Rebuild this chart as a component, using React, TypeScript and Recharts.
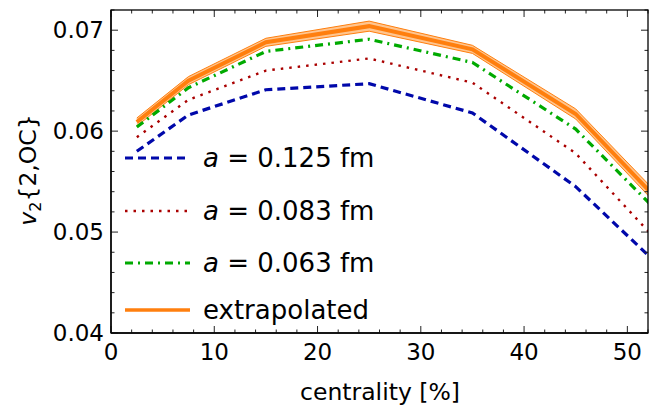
import React from "react";
import { ComposedChart, Line, Area, XAxis, YAxis } from "recharts";

const centrality = [2.5, 7.5, 15, 25, 35, 45, 55];
const a0125 = [0.058, 0.0616, 0.0641, 0.0647, 0.0618, 0.0545, 0.0448];
const a0083 = [0.0594, 0.0631, 0.066, 0.0672, 0.0648, 0.0578, 0.0468];
const a0063 = [0.0604, 0.0643, 0.0679, 0.0691, 0.0668, 0.0602, 0.0499];
const extrap = [0.0609, 0.065, 0.0688, 0.0704, 0.0681, 0.0617, 0.051];
const extrapErr = [0.0004, 0.0004, 0.0004, 0.0005, 0.0004, 0.0005, 0.0006];

const xTicks = [0, 2, 4, 6, 8, 10, 12, 14, 16, 18, 20, 22, 24, 26, 28, 30, 32, 34, 36, 38, 40, 42, 44, 46, 48, 50, 52];
const yTicks = [0.04, 0.042, 0.044, 0.046, 0.048, 0.05, 0.052, 0.054, 0.056, 0.058, 0.06, 0.062, 0.064, 0.066, 0.068, 0.07, 0.072];

const legendLabels = ["0.125 fm", "0.083 fm", "0.063 fm", "extrapolated"];

const data = centrality.map((c, i) => ({
  c,
  s1: a0125[i],
  s2: a0083[i],
  s3: a0063[i],
  ex: extrap[i],
  band: [extrap[i] - extrapErr[i], extrap[i] + extrapErr[i]],
}));

const FONT = "DejaVu Sans, sans-serif";
const BLUE = "#0008aa";
const RED = "#aa0000";
const GREEN = "#00aa00";
const ORANGE = "#ff7f0e";

const PLOT_W = 537;
const PLOT_H = 323;

const isMajorX = (v: number) => Math.abs(v % 10) < 1e-6;
const isMajorY = (v: number) => Math.abs(v * 100 - Math.round(v * 100)) < 1e-6;

const BottomTick = (p: any) => {
  const { x, y, payload } = p;
  const v = payload.value;
  const major = isMajorX(v);
  const len = major ? 7 : 3.5;
  const top = y - PLOT_H;
  return (
    <g>
      <line x1={x} x2={x} y1={y} y2={y - len} stroke="#222" strokeWidth={1} />
      <line x1={x} x2={x} y1={top} y2={top + len} stroke="#222" strokeWidth={1} />
      {major && (
        <text x={x} y={y + 27} textAnchor="middle" fontSize={23} fontFamily={FONT} fill="#000">
          {v}
        </text>
      )}
    </g>
  );
};
const LeftTick = (p: any) => {
  const { x, y, payload } = p;
  const v = payload.value;
  const major = isMajorY(v);
  const len = major ? 7 : 3.5;
  const right = x + PLOT_W;
  return (
    <g>
      <line x1={x} x2={x + len} y1={y} y2={y} stroke="#222" strokeWidth={1} />
      <line x1={right} x2={right - len} y1={y} y2={y} stroke="#222" strokeWidth={1} />
      {major && (
        <text x={x - 7} y={y + 7.5} textAnchor="end" fontSize={23} fontFamily={FONT} fill="#000">
          {v.toFixed(2)}
        </text>
      )}
    </g>
  );
};

const axisLine = { stroke: "#000", strokeWidth: 1.3 };

export default function App() {
  const legendRows = [
    { y: 158, color: BLUE, dash: "8 5", w: 3.2 },
    { y: 211, color: RED, dash: "2.5 6", w: 2.4 },
    { y: 263, color: GREEN, dash: "8 5 2 5", w: 3.2 },
    { y: 310, color: ORANGE, dash: undefined as any, w: 3.5 },
  ];
  return (
    <div style={{ position: "absolute", left: 0, top: 0, width: 658, height: 407 }}>
      <ComposedChart
        width={658}
        height={407}
        data={data}
        margin={{ top: 10, right: 10, bottom: 0, left: 0 }}
      >
        <XAxis
          dataKey="c"
          type="number"
          domain={[0, 52]}
          allowDataOverflow
          ticks={xTicks}
          interval={0}
          tickSize={0}
          tickMargin={0}
          height={74}
          axisLine={axisLine}
          tickLine={false}
          tick={<BottomTick />}
        />
        <YAxis
          type="number"
          domain={[0.04, 0.072]}
          allowDataOverflow
          ticks={yTicks}
          interval={0}
          tickSize={0}
          tickMargin={0}
          width={111}
          axisLine={axisLine}
          tickLine={false}
          tick={<LeftTick />}
        />
        <Line dataKey="s1" stroke={BLUE} strokeWidth={3.2} strokeDasharray="8 5" dot={false} isAnimationActive={false} />
        <Line dataKey="s2" stroke={RED} strokeWidth={2.4} strokeDasharray="2.5 6" dot={false} isAnimationActive={false} />
        <Line dataKey="s3" stroke={GREEN} strokeWidth={3.2} strokeDasharray="8 5 2 5" dot={false} isAnimationActive={false} />
        <Area dataKey="band" stroke={ORANGE} strokeWidth={1} fill="#ffc58f" fillOpacity={1} isAnimationActive={false} />
        <Line dataKey="ex" stroke={ORANGE} strokeWidth={4} dot={false} isAnimationActive={false} />
      </ComposedChart>
      <svg
        width={658}
        height={407}
        style={{ position: "absolute", left: 0, top: 0, pointerEvents: "none" }}
        fontFamily={FONT}
      >
        <rect x={111} y={10} width={PLOT_W} height={PLOT_H} fill="none" stroke="#000" strokeWidth={1.3} />
        <text x={380} y={400} textAnchor="middle" fontSize={23.5} fill="#000">
          centrality [%]
        </text>
        <text x={36} y={170} textAnchor="middle" fontSize={23.5} fill="#000" transform="rotate(-90 36 170)">
          <tspan fontStyle="italic">v</tspan>
          <tspan fontSize={16} dy={5}>2</tspan>
          <tspan dy={-5}>{"{2,OC}"}</tspan>
        </text>
        {legendRows.map((r, i) => (
          <g key={i}>
            <line x1={125} x2={190} y1={r.y} y2={r.y} stroke={r.color} strokeWidth={r.w} strokeDasharray={r.dash} />
            <text x={203} y={r.y + 8.5} fontSize={26} fill="#000">
              {i < 3 ? (
                <>
                  <tspan fontStyle="italic">a</tspan>
                  <tspan>{" = " + legendLabels[i]}</tspan>
                </>
              ) : (
                legendLabels[i]
              )}
            </text>
          </g>
        ))}
      </svg>
    </div>
  );
}
